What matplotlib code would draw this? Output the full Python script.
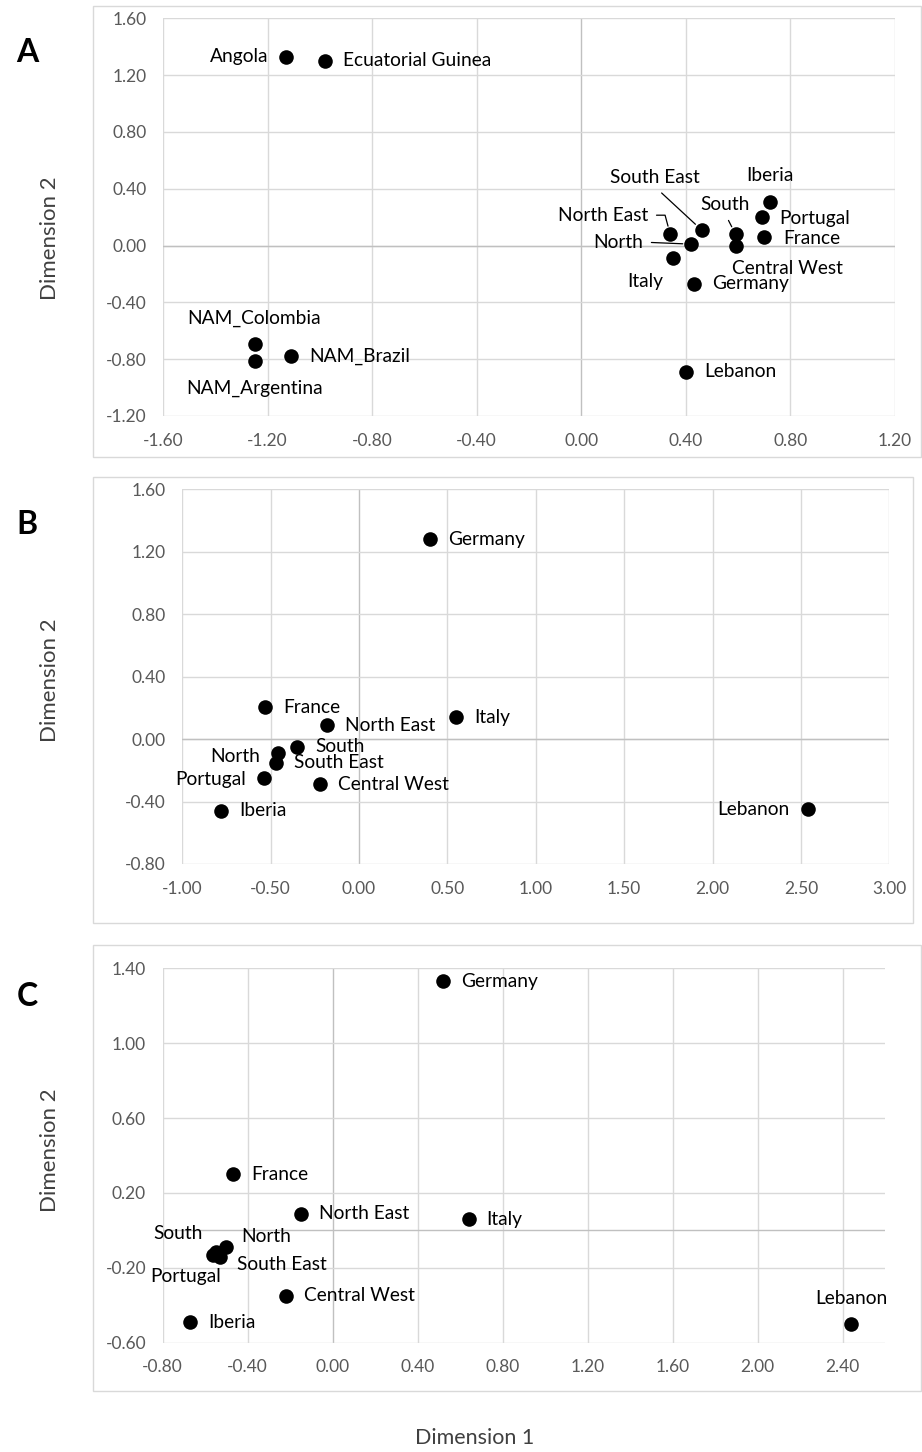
import matplotlib
matplotlib.use('Agg')
import matplotlib.pyplot as plt
from matplotlib.patches import Rectangle

W, H = 922, 1452
plt.rcParams['font.family'] = ['Lato', 'DejaVu Sans']
plt.rcParams['axes.unicode_minus'] = False

# ---------------- data ----------------
a_names = ['Angola', 'Ecuatorial Guinea', 'NAM_Colombia', 'NAM_Argentina', 'NAM_Brazil',
           'Lebanon', 'Germany', 'Italy', 'North', 'North East', 'South East', 'South',
           'Central West', 'Iberia', 'Portugal', 'France']
a_x = [-1.13, -0.98, -1.25, -1.25, -1.11, 0.40, 0.43, 0.35, 0.42, 0.34, 0.46, 0.59, 0.59, 0.72, 0.69, 0.70]
a_y = [1.33, 1.30, -0.69, -0.81, -0.78, -0.89, -0.27, -0.09, 0.01, 0.08, 0.11, 0.08, 0.00, 0.31, 0.20, 0.06]

b_names = ['Germany', 'France', 'North East', 'Italy', 'South', 'North', 'South East',
           'Portugal', 'Central West', 'Iberia', 'Lebanon']
b_x = [0.40, -0.53, -0.18, 0.55, -0.35, -0.46, -0.47, -0.54, -0.22, -0.78, 2.54]
b_y = [1.28, 0.205, 0.09, 0.14, -0.05, -0.09, -0.15, -0.25, -0.29, -0.46, -0.45]

c_names = ['Germany', 'France', 'North East', 'Italy', 'Lebanon', 'South', 'North',
           'South East', 'Portugal', 'Central West', 'Iberia']
c_x = [0.52, -0.47, -0.15, 0.64, 2.44, -0.55, -0.50, -0.53, -0.565, -0.22, -0.67]
c_y = [1.33, 0.30, 0.09, 0.06, -0.50, -0.115, -0.09, -0.14, -0.13, -0.35, -0.49]

a_xticks = [-1.60, -1.20, -0.80, -0.40, 0.00, 0.40, 0.80, 1.20]
a_yticks = [-1.20, -0.80, -0.40, 0.00, 0.40, 0.80, 1.20, 1.60]
b_xticks = [-1.00, -0.50, 0.00, 0.50, 1.00, 1.50, 2.00, 2.50, 3.00]
b_yticks = [-0.80, -0.40, 0.00, 0.40, 0.80, 1.20, 1.60]
c_xticks = [-0.80, -0.40, 0.00, 0.40, 0.80, 1.20, 1.60, 2.00, 2.40]
c_yticks = [-0.60, -0.20, 0.20, 0.60, 1.00, 1.40]

# ---------------- label placement (pixels: dx, dy(up), ha) ----------------
R = (18, 0, 'left')
a_lab = {'Angola': (-17, 0, 'right'), 'Ecuatorial Guinea': R, 'NAM_Colombia': (0, 25, 'center'),
         'NAM_Argentina': (0, -28, 'center'), 'NAM_Brazil': R, 'Lebanon': R, 'Germany': R,
         'Italy': (-10, -23, 'right'), 'North': (-48, 2, 'right'), 'North East': (-22, 19, 'right'),
         'South East': (-47, 52, 'center'), 'South': (-11, 30, 'center'),
         'Central West': (-4, -23, 'left'), 'Iberia': (0, 26, 'center'),
         'Portugal': (18, -1, 'left'), 'France': (19, -1, 'left')}
b_lab = {'Germany': R, 'France': R, 'North East': R, 'Italy': R, 'South': R,
         'North': (-18, -3, 'right'), 'South East': R, 'Portugal': (-18, -1, 'right'),
         'Central West': R, 'Iberia': R, 'Lebanon': (-18, 0, 'right')}
c_lab = {'Germany': R, 'France': R, 'North East': R, 'Italy': R, 'Lebanon': (0, 25, 'center'),
         'South': (-13, 18, 'right'), 'North': (15, 11, 'left'), 'South East': (17, -8, 'left'),
         'Portugal': (8, -22, 'right'), 'Central West': R, 'Iberia': R}

# leader lines in panel A: name -> (relpos, connectionstyle)
a_leaders = {'North': ((1.0, 0.5), 'arc3'),
             'North East': ((1.0, 0.5), 'angle,angleA=0,angleB=105,rad=0'),
             'South East': ((0.5, 0.0), 'arc3'),
             'South': ((0.5, 0.0), 'arc3')}

PT = 72.0 / 100.0
GRID = '#d9d9d9'
ZERO = '#c0c0c0'
TICKC = '#595959'

fig = plt.figure(figsize=(W / 100, H / 100), dpi=100)


def rect(l, r, t, b):
    return [l / W, 1 - b / H, (r - l) / W, (b - t) / H]


def panel(box, axpos, xlim, ylim, xt, yt, names, xs, ys, lab, leaders=None, letter='', letter_xy=(0, 0)):
    l, r, t, b = box
    fig.patches.append(Rectangle((l / W, 1 - b / H), (r - l) / W, (b - t) / H, transform=fig.transFigure,
                                 fill=False, edgecolor=GRID, lw=1.0))
    ax = fig.add_axes(rect(*axpos))
    ax.set_xlim(*xlim)
    ax.set_ylim(*ylim)
    ax.set_xticks(xt)
    ax.set_yticks(yt)
    ax.set_xticklabels(['%.2f' % v for v in xt])
    ax.set_yticklabels(['%.2f' % v for v in yt])
    for s in ax.spines.values():
        s.set_visible(False)
    ax.tick_params(length=0, labelsize=12.5, labelcolor=TICKC)
    ax.tick_params(axis='y', pad=12)
    ax.tick_params(axis='x', pad=12)
    for v in xt:
        ax.axvline(v, color=ZERO if v == 0 else GRID, lw=1.0, zorder=0)
    for v in yt:
        ax.axhline(v, color=GRID, lw=1.0, zorder=0)
    ax.axhline(0, color=ZERO, lw=1.0, zorder=0)
    ax.scatter(xs, ys, s=110, color='black', zorder=3, linewidths=0)
    for n, x, y in zip(names, xs, ys):
        dx, dy, ha = lab[n]
        kw = {}
        if leaders and n in leaders:
            rp, cs = leaders[n]
            kw['arrowprops'] = dict(arrowstyle='-', color='black', lw=0.9, relpos=rp,
                                    connectionstyle=cs, shrinkA=4, shrinkB=6)
        ax.annotate(n, (x, y), xytext=(dx * PT, dy * PT), textcoords='offset points',
                    ha=ha, va='center', fontsize=13.8, color='black', zorder=4, **kw)
    fig.text(letter_xy[0] / W, 1 - letter_xy[1] / H, letter, fontsize=23, fontweight='bold',
             ha='center', va='center')
    return ax


panel((93, 921, 6, 457), (163, 895, 18.3, 416), (-1.6, 1.2), (-1.2, 1.6), a_xticks, a_yticks,
      a_names, a_x, a_y, a_lab, a_leaders, 'A', (27, 52))
panel((93, 913, 477, 923), (182.3, 889.3, 489.3, 864), (-1.0, 3.0), (-0.8, 1.6), b_xticks, b_yticks,
      b_names, b_x, b_y, b_lab, None, 'B', (27, 525))
panel((93, 921, 945, 1391), (162.7, 885, 968.3, 1342.7), (-0.8, 2.6), (-0.6, 1.4), c_xticks, c_yticks,
      c_names, c_x, c_y, c_lab, None, 'C', (27, 997))

for yc in (238, 680, 1150):
    fig.text(50 / W, 1 - yc / H, 'Dimension 2', rotation=90, ha='center', va='center',
             fontsize=16, color='#404040')
fig.text(475 / W, 1 - 1438 / H, 'Dimension 1', ha='center', va='center', fontsize=15.5, color='#404040')

fig.savefig('out.png', dpi=100, facecolor='white')
